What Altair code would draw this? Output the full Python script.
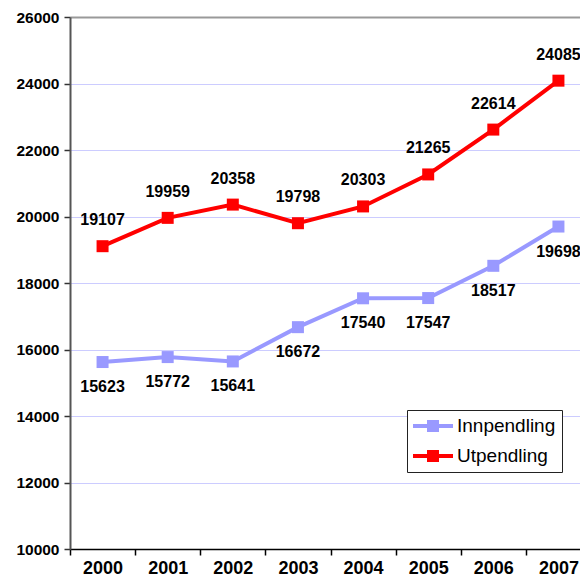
import altair as alt
import pandas as pd

years = ["2000", "2001", "2002", "2003", "2004", "2005", "2006", "2007"]
innpendling = [15623, 15772, 15641, 16672, 17540, 17547, 18517, 19698]
utpendling = [19107, 19959, 20358, 19798, 20303, 21265, 22614, 24085]
series = ["Innpendling", "Utpendling"]
colors = ["#9999FF", "#FF0000"]
y_ticks = [10000, 12000, 14000, 16000, 18000, 20000, 22000, 24000, 26000]

rows = []
for name, vals in zip(series, [innpendling, utpendling]):
    for yr, v in zip(years, vals):
        rows.append({"year": yr, "value": v, "series": name})
df = pd.DataFrame(rows)

FONT = "Liberation Sans"
legend_path = "M-1,-0.2H0.4V-0.6H1.6V-0.2H3V0.2H1.6V0.6H0.4V0.2H-1Z"

x = alt.X("year:N", sort=years,
          scale=alt.Scale(domain=years, range=[0, 521], paddingInner=0, paddingOuter=0),
          axis=alt.Axis(title=None, labelAngle=0, labelFont=FONT, labelFontSize=18,
                        labelFontWeight="bold", labelColor="black", tickBand="extent",
                        tickSize=6, tickColor="black", tickWidth=1.5, domainColor="black",
                        domainWidth=1.5, labelPadding=4, grid=False))
y = alt.Y("value:Q",
          scale=alt.Scale(domain=[10000, 26000], nice=False, zero=False),
          axis=alt.Axis(title=None, values=y_ticks, format="d", labelFont=FONT, labelFontSize=15.5,
                        labelFontWeight="bold", labelColor="black", tickSize=6,
                        tickColor="#333333", tickWidth=1.5, domainColor="#555555",
                        domainWidth=2, labelPadding=5, grid=True,
                        gridColor={"condition": {"test": "datum.value == 26000", "value": "#999999"},
                                   "value": "#CCCCFF"},
                        gridWidth={"condition": {"test": "datum.value == 26000", "value": 2},
                                   "value": 1}))

color = alt.Color("series:N",
                  scale=alt.Scale(domain=series, range=colors),
                  legend=alt.Legend(title=None, orient="none", legendX=337, legendY=393,
                                    symbolType=legend_path, symbolSize=400,
                                    symbolStrokeWidth=0, labelFont=FONT, labelFontSize=19,
                                    labelColor="black", strokeColor="#222222", fillColor="white",
                                    padding=6, rowPadding=10, labelOffset=24, direction="vertical"))

base = alt.Chart(df)
lines = base.mark_line(strokeWidth=4).encode(x=x, y=y, color=color)
points = base.mark_point(shape="square", filled=True, size=144, opacity=1).encode(
    x=x, y=y, color=alt.Color("series:N", scale=alt.Scale(domain=series, range=colors), legend=None))
lab_up = base.transform_filter(alt.datum.series == "Utpendling").mark_text(
    font=FONT, fontSize=16, fontWeight="bold", color="black", dy=-26, baseline="middle").encode(
    x=x, y=y, text="value:Q")
lab_down = base.transform_filter(alt.datum.series == "Innpendling").mark_text(
    font=FONT, fontSize=16, fontWeight="bold", color="black", dy=25, baseline="middle").encode(
    x=x, y=y, text="value:Q")

chart = alt.layer(lines, points, lab_up, lab_down).properties(
    width=510, height=532,
    autosize=alt.AutoSizeParams(type="none"),
    padding={"left": 62, "top": 9, "right": 0, "bottom": 29},
).configure_view(stroke=None).configure(background="white")

chart.save("out.html", embed_options={"renderer": "svg", "actions": False})
